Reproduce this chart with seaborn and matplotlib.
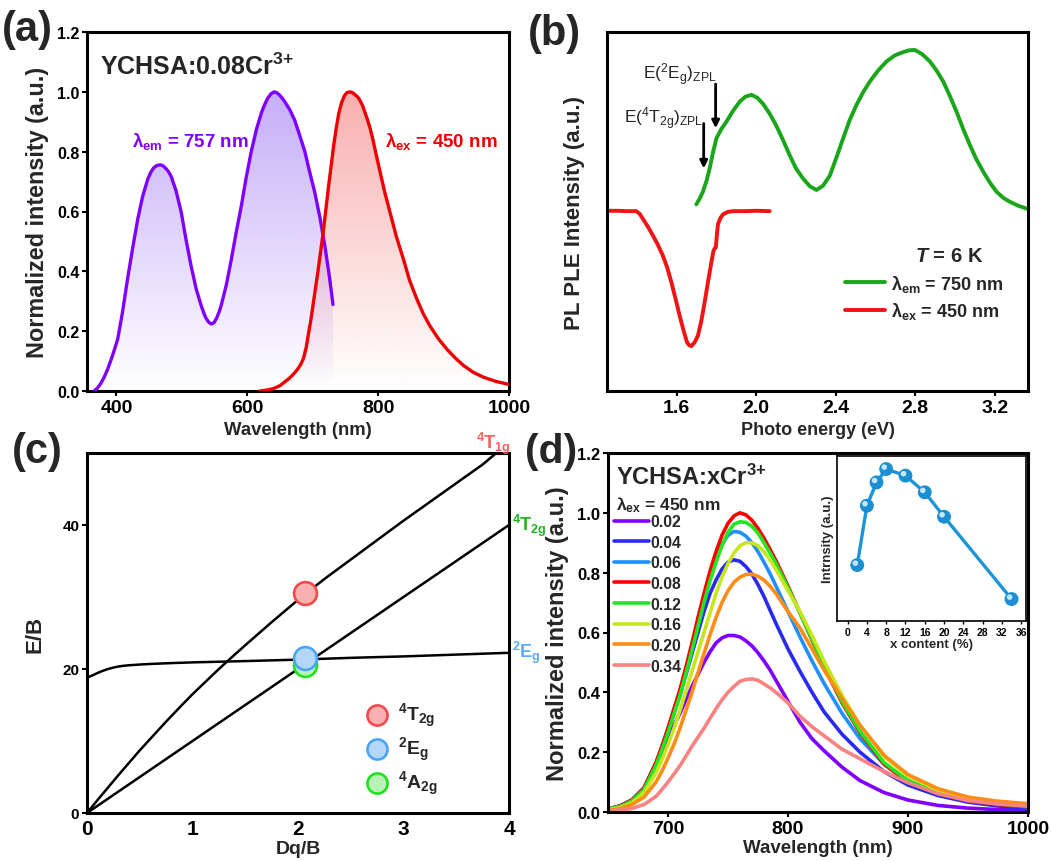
import numpy as np
import matplotlib
matplotlib.use("Agg")
import matplotlib.pyplot as plt
import matplotlib.colors as mcolors
import matplotlib.transforms as mtransforms
import seaborn as sns

# ---------------- (a) PLE / PL spectra ----------------
ple_wl = [366, 371, 376, 381, 386.6, 391, 395, 402, 409, 417, 425, 432.6, 440, 448, 453, 457,
          462, 467, 471, 475, 479, 483.7, 491, 499, 506, 514, 522, 529.6, 534, 537, 541, 545,
          549, 553, 557, 560, 568, 575.6, 583, 591, 598, 606, 614, 621.6, 626, 631, 636, 641,
          645, 649, 653, 657, 665, 672.5, 680, 688, 695, 703, 711, 718.5, 725, 731]
ple_int = [0.0, 0.01, 0.025, 0.045, 0.073, 0.10, 0.125, 0.174, 0.26, 0.375, 0.48, 0.575, 0.65,
           0.709, 0.733, 0.746, 0.754, 0.756, 0.753, 0.745, 0.735, 0.717, 0.67, 0.598, 0.51,
           0.419, 0.34, 0.285, 0.258, 0.243, 0.23, 0.224, 0.228, 0.243, 0.265, 0.285, 0.355,
           0.44, 0.53, 0.62, 0.71, 0.80, 0.875, 0.93, 0.955, 0.978, 0.993, 1.0, 0.997, 0.99,
           0.98, 0.968, 0.94, 0.905, 0.855, 0.80, 0.735, 0.665, 0.58, 0.486, 0.39, 0.289]
pl_wl = [619, 630, 640, 650, 657, 664, 670, 677, 682, 686, 690, 693, 697, 700, 704, 708, 712,
         716, 720, 724, 728, 732, 736, 740, 744, 748, 752, 757, 761, 765, 769, 772, 776, 780,
         784, 788, 792, 795, 799, 803, 810, 818, 828, 838.6, 848, 859, 869, 879, 892, 905,
         918, 930.6, 945, 961, 980, 1000]
pl_int = [0.0, 0.003, 0.008, 0.018, 0.03, 0.042, 0.055, 0.073, 0.09, 0.11, 0.145, 0.185, 0.235,
          0.28, 0.34, 0.40, 0.465, 0.53, 0.605, 0.68, 0.75, 0.82, 0.88, 0.93, 0.963, 0.985,
          0.997, 1.0, 0.997, 0.99, 0.982, 0.972, 0.955, 0.93, 0.905, 0.876, 0.84, 0.81, 0.77,
          0.732, 0.665, 0.598, 0.515, 0.441, 0.37, 0.308, 0.258, 0.218, 0.175, 0.14, 0.11,
          0.085, 0.063, 0.046, 0.032, 0.022]

# ---------------- (b) low temperature PLE / PL ----------------
lt_ple_ev = [1.699, 1.715, 1.732, 1.75, 1.766, 1.783, 1.80, 1.825, 1.85, 1.883, 1.917, 1.946,
             1.976, 2.005, 2.034, 2.067, 2.10, 2.134, 2.168, 2.20, 2.235, 2.27, 2.303, 2.336,
             2.37, 2.403, 2.437, 2.47, 2.504, 2.537, 2.571, 2.613, 2.655, 2.697, 2.739, 2.768,
             2.797, 2.835, 2.873, 2.906, 2.94, 2.973, 3.007, 3.04, 3.074, 3.107, 3.141, 3.175,
             3.208, 3.242, 3.275, 3.317, 3.359]
lt_ple_int = [0.52, 0.535, 0.555, 0.585, 0.62, 0.665, 0.704, 0.73, 0.75, 0.78, 0.806, 0.82,
              0.825, 0.817, 0.80, 0.773, 0.74, 0.70, 0.657, 0.62, 0.592, 0.57, 0.56, 0.572,
              0.60, 0.65, 0.704, 0.755, 0.797, 0.832, 0.862, 0.893, 0.918, 0.935, 0.944, 0.949,
              0.95, 0.938, 0.918, 0.893, 0.862, 0.822, 0.778, 0.73, 0.685, 0.645, 0.611, 0.58,
              0.555, 0.538, 0.527, 0.516, 0.508]
lt_pl_ev = [1.254, 1.30, 1.35, 1.397, 1.415, 1.43, 1.455, 1.48, 1.505, 1.53, 1.552, 1.573, 1.594,
            1.615, 1.635, 1.652, 1.664, 1.674, 1.69, 1.707, 1.724, 1.741, 1.758, 1.775, 1.785,
            1.791, 1.797, 1.803, 1.808, 1.82, 1.833, 1.858, 1.883, 1.95, 2.0, 2.068]
lt_pl_int = [0.502, 0.502, 0.501, 0.501, 0.493, 0.48, 0.458, 0.434, 0.408, 0.378, 0.345, 0.304,
             0.258, 0.21, 0.168, 0.136, 0.127, 0.125, 0.135, 0.154, 0.195, 0.248, 0.305, 0.36,
             0.39, 0.397, 0.40, 0.44, 0.465, 0.482, 0.492, 0.499, 0.501, 0.501, 0.502, 0.501]
zpl_2eg = 1.796
zpl_4t2g = 1.736

# ---------------- (c) Tanabe-Sugano diagram ----------------
t2g_dq = [0.0, 4.0]
t2g_e = [0.0, 40.0]
t1g_dq = [0.0, 0.1, 0.2, 0.3, 0.4, 0.5, 0.6, 0.75, 0.9, 1.0, 1.1, 1.25, 1.4, 1.5, 1.75, 2.0,
          2.25, 2.5, 2.75, 3.0, 3.25, 3.5, 3.75, 3.88]
t1g_e = [0.0, 1.8, 3.55, 5.3, 7.0, 8.7, 10.3, 12.7, 15.0, 16.5, 17.9, 20.0, 22.0, 23.3, 26.5,
         29.6, 32.5, 35.2, 37.9, 40.6, 43.2, 45.8, 48.4, 50.0]
eg_dq = [0.0, 0.05, 0.1, 0.15, 0.2, 0.25, 0.3, 0.35, 0.4, 0.5, 0.6, 0.8, 1.0, 1.5, 2.0, 2.5,
         3.0, 3.5, 4.0]
eg_e = [18.8, 19.1, 19.45, 19.75, 20.0, 20.2, 20.35, 20.45, 20.52, 20.62, 20.7, 20.82, 20.92,
        21.1, 21.3, 21.55, 21.75, 22.0, 22.25]
dq_point = 2.07
level_names = ["$^4$A$_{2g}$", "$^2$E$_g$", "$^4$T$_{2g}$"]
level_e = [20.5, 21.55, 30.5]

# ---------------- (d) concentration series ----------------
wl_d = [650, 660, 670, 680, 690, 695, 700, 705, 710, 715, 720, 725, 730, 735, 740, 745, 750,
        755, 760, 765, 770, 775, 780, 785, 790, 800, 810, 820, 830, 845, 860, 880, 900, 925,
        950, 975, 1000]
conc_labels = ["0.02", "0.04", "0.06", "0.08", "0.12", "0.16", "0.20", "0.34"]
int_002 = [0.01, 0.02, 0.04, 0.08, 0.16, 0.20, 0.245, 0.29, 0.33, 0.375, 0.42, 0.46, 0.50,
           0.535, 0.565, 0.582, 0.59, 0.59, 0.585, 0.572, 0.555, 0.532, 0.505, 0.475, 0.44,
           0.37, 0.30, 0.245, 0.205, 0.15, 0.105, 0.065, 0.04, 0.022, 0.013, 0.008, 0.005]
int_004 = [0.01, 0.02, 0.04, 0.08, 0.16, 0.213, 0.27, 0.33, 0.39, 0.46, 0.53, 0.60, 0.67, 0.73,
           0.775, 0.812, 0.835, 0.843, 0.838, 0.82, 0.795, 0.76, 0.72, 0.675, 0.63, 0.545,
           0.47, 0.40, 0.335, 0.26, 0.20, 0.135, 0.09, 0.055, 0.033, 0.02, 0.012]
int_006 = [0.01, 0.02, 0.04, 0.08, 0.165, 0.22, 0.28, 0.342, 0.405, 0.478, 0.555, 0.635, 0.715,
           0.785, 0.845, 0.895, 0.925, 0.938, 0.935, 0.922, 0.90, 0.87, 0.835, 0.797, 0.755,
           0.67, 0.585, 0.505, 0.43, 0.33, 0.245, 0.16, 0.105, 0.065, 0.04, 0.026, 0.017]
int_008 = [0.01, 0.02, 0.04, 0.08, 0.165, 0.22, 0.28, 0.345, 0.41, 0.485, 0.565, 0.65, 0.73,
           0.805, 0.87, 0.925, 0.965, 0.99, 1.0, 0.993, 0.975, 0.948, 0.915, 0.878, 0.84,
           0.755, 0.665, 0.575, 0.485, 0.365, 0.265, 0.16, 0.10, 0.062, 0.038, 0.025, 0.018]
int_012 = [0.01, 0.018, 0.037, 0.075, 0.155, 0.208, 0.265, 0.328, 0.39, 0.463, 0.54, 0.62,
           0.70, 0.772, 0.835, 0.89, 0.935, 0.962, 0.97, 0.968, 0.955, 0.932, 0.90, 0.866,
           0.83, 0.75, 0.665, 0.578, 0.49, 0.37, 0.27, 0.165, 0.105, 0.065, 0.04, 0.027, 0.02]
int_016 = [0.008, 0.015, 0.03, 0.065, 0.13, 0.175, 0.225, 0.28, 0.34, 0.405, 0.47, 0.535, 0.60,
           0.665, 0.73, 0.785, 0.83, 0.866, 0.89, 0.90, 0.90, 0.89, 0.87, 0.843, 0.81, 0.74,
           0.67, 0.59, 0.505, 0.39, 0.29, 0.185, 0.12, 0.073, 0.047, 0.032, 0.024]
int_020 = [0.006, 0.012, 0.025, 0.05, 0.10, 0.137, 0.18, 0.227, 0.28, 0.34, 0.40, 0.465, 0.53,
           0.592, 0.65, 0.70, 0.74, 0.768, 0.785, 0.794, 0.795, 0.788, 0.775, 0.755, 0.73,
           0.67, 0.615, 0.545, 0.475, 0.38, 0.29, 0.19, 0.125, 0.078, 0.05, 0.036, 0.028]
int_034 = [0.003, 0.006, 0.012, 0.025, 0.052, 0.075, 0.10, 0.127, 0.155, 0.187, 0.22, 0.25,
           0.28, 0.313, 0.345, 0.375, 0.40, 0.42, 0.437, 0.443, 0.445, 0.44, 0.428, 0.415,
           0.40, 0.365, 0.32, 0.285, 0.255, 0.21, 0.178, 0.135, 0.098, 0.061, 0.038, 0.027,
           0.02]
conc_colors = ["#8000ff", "#2a2af0", "#1e90ff", "#ff0000", "#22e622", "#c8e61e", "#ff8c14",
               "#fa8282"]

# inset: integrated intensity vs Cr content
x_content = [2, 4, 6, 8, 12, 16, 20, 34]
integ_int = [0.339, 0.699, 0.84, 0.921, 0.881, 0.78, 0.632, 0.133]

# ---------------- style ----------------
sns.set_theme(style="ticks")
plt.rcParams.update({
    "font.family": ["Liberation Sans", "DejaVu Sans"],
    "font.weight": "bold",
    "axes.labelweight": "bold",
    "mathtext.fontset": "custom",
    "mathtext.default": "regular",
    "mathtext.rm": "Liberation Sans:bold",
    "mathtext.bf": "Liberation Sans:bold",
    "mathtext.it": "Liberation Sans:italic:bold",
    "axes.linewidth": 2.2,
    "axes.edgecolor": "black",
    "xtick.color": "black",
    "ytick.color": "black",
    "xtick.major.width": 1.5,
    "ytick.major.width": 1.5,
    "xtick.major.size": 3.5,
    "ytick.major.size": 3.5,
    "xtick.major.pad": 2,
    "ytick.major.pad": 2,
    "lines.solid_joinstyle": "round",
    "lines.solid_capstyle": "round",
})

W, H = 1051, 862
fig = plt.figure(figsize=(W / 100, H / 100), dpi=100)


def px_axes(left, top, right, bottom):
    return fig.add_axes([left / W, 1 - bottom / H, (right - left) / W, (bottom - top) / H])


def ftext(px, py, s, **kw):
    fig.text(px / W, 1 - py / H, s, **kw)


def gradient_fill(ax, x, y, color, alpha_top, ytop):
    poly = ax.fill_between(x, y, 0, color="none", lw=0)
    rgb = mcolors.to_rgb(color)
    n = 256
    img = np.zeros((n, 1, 4))
    img[:, 0, :3] = rgb
    img[:, 0, 3] = np.linspace(0.0, alpha_top, n)
    im = ax.imshow(img, aspect="auto", origin="lower",
                   extent=[min(x), max(x), 0, ytop], zorder=1, interpolation="bilinear")
    im.set_clip_path(poly.get_paths()[0], ax.transData)


ax_a = px_axes(87, 33, 509, 392)
ax_b = px_axes(607, 33, 1028, 392)
ax_c = px_axes(87, 454, 509, 814)
ax_d = px_axes(608, 454, 1028, 813)

# ---------------- panel (a) ----------------
gradient_fill(ax_a, ple_wl, ple_int, "#8a5cf0", 0.5, 1.0)
gradient_fill(ax_a, pl_wl, pl_int, "#f04040", 0.42, 1.0)
sns.lineplot(x=ple_wl, y=ple_int, color="#7f00ff", lw=2.4, ax=ax_a, zorder=3)
sns.lineplot(x=pl_wl, y=pl_int, color="#ee0000", lw=2.4, ax=ax_a, zorder=3)
ax_a.set_xlim(355, 1000)
ax_a.set_ylim(0, 1.2)
ax_a.set_xticks([400, 600, 800, 1000])
ax_a.set_yticks(np.arange(0, 1.21, 0.2))
ax_a.set_yticklabels([f"{v:.1f}" for v in np.arange(0, 1.21, 0.2)])
ax_a.tick_params(axis="x", labelsize=14)
ax_a.tick_params(axis="y", labelsize=11.5)
ax_a.set_xlabel("Wavelength (nm)", fontsize=13.3, labelpad=4)
ax_a.set_ylabel("Normalized intensity (a.u.)", fontsize=16.8, labelpad=6)
ax_a.text(0.03, 0.905, "YCHSA:0.08Cr$^{3{+}}$", transform=ax_a.transAxes, fontsize=18,
          fontweight="bold", va="center", ha="left")
ax_a.text(424, 0.836, "λ$_{em}$ = 757 nm", color="#7f00ff", fontsize=13.5, fontweight="bold",
          va="center", ha="left")
ax_a.text(810, 0.836, "λ$_{ex}$ = 450 nm", color="#ee0000", fontsize=13.5, fontweight="bold",
          va="center", ha="left")

# ---------------- panel (b) ----------------
sns.lineplot(x=lt_ple_ev, y=lt_ple_int, color="#1aa61a", lw=2.8, ax=ax_b,
             label="λ$_{em}$ = 750 nm")
sns.lineplot(x=lt_pl_ev, y=lt_pl_int, color="#f01414", lw=2.8, ax=ax_b,
             label="λ$_{ex}$ = 450 nm")
ax_b.set_xlim(1.25, 3.366)
ax_b.set_ylim(0, 1)
ax_b.set_xticks([1.6, 2.0, 2.4, 2.8, 3.2])
ax_b.set_xticklabels(["1.6", "2.0", "2.4", "2.8", "3.2"])
ax_b.set_yticks([])
ax_b.tick_params(axis="x", labelsize=14)
ax_b.set_xlabel("Photo energy (eV)", fontsize=13, labelpad=4)
ax_b.set_ylabel("PL PLE Intensity (a.u.)", fontsize=16, labelpad=16)
arrow_kw = dict(arrowstyle="-|>", color="black", lw=2.0, mutation_scale=11,
                shrinkA=0, shrinkB=0)
ax_b.annotate("", xy=(zpl_2eg, 0.732), xytext=(zpl_2eg, 0.855), arrowprops=arrow_kw)
ax_b.annotate("", xy=(zpl_4t2g, 0.62), xytext=(zpl_4t2g, 0.745), arrowprops=arrow_kw)
ax_b.text(1.80, 0.883, "E($^2$E$_g$)$_{ZPL}$", fontsize=12.5, fontweight="normal",
          ha="right", va="center")
ax_b.text(1.735, 0.762, "E($^4$T$_{2g}$)$_{ZPL}$", fontsize=12.5, fontweight="normal",
          ha="right", va="center")
ax_b.text(2.97, 0.378, "$\\mathit{T}$ = 6 K", fontsize=14.5, fontweight="bold",
          ha="center", va="center")
ax_b.legend(loc="upper left", bbox_to_anchor=(0.565, 0.33), frameon=False, fontsize=13,
            handlelength=2.2, handletextpad=0.35, labelspacing=0.35, borderpad=0,
            borderaxespad=0)

# ---------------- panel (c) ----------------
for xs, ys in [(t2g_dq, t2g_e), (t1g_dq, t1g_e), (eg_dq, eg_e)]:
    sns.lineplot(x=xs, y=ys, color="black", lw=1.8, ax=ax_c, zorder=2)
face_cols = {"$^4$T$_{2g}$": "#f8b0b0", "$^2$E$_g$": "#b4d6f8", "$^4$A$_{2g}$": "#b8f2b8"}
edge_cols = {"$^4$T$_{2g}$": "#f04a4a", "$^2$E$_g$": "#4aa5f5", "$^4$A$_{2g}$": "#1ee01e"}
for name, e in zip(level_names, level_e):
    ax_c.scatter([dq_point], [e], s=270, color=face_cols[name], edgecolor=edge_cols[name],
                 linewidth=1.9, zorder=4)
legend_order = ["$^4$T$_{2g}$", "$^2$E$_g$", "$^4$A$_{2g}$"]
handles = [ax_c.scatter([], [], s=210, color=face_cols[n], edgecolor=edge_cols[n],
                        linewidth=1.9) for n in legend_order]
ax_c.legend(handles, legend_order, loc="upper left", bbox_to_anchor=(0.64, 0.31),
            frameon=False, fontsize=14, handletextpad=0.1, labelspacing=0.3, borderpad=0,
            borderaxespad=0)
ax_c.set_xlim(0, 4)
ax_c.set_ylim(0, 50)
ax_c.set_xticks([0, 1, 2, 3, 4])
ax_c.set_yticks([0, 20, 40])
ax_c.tick_params(axis="x", labelsize=15, length=0, pad=4)
ax_c.tick_params(axis="y", labelsize=11)
ax_c.set_xlabel("Dq/B", fontsize=14, labelpad=2)
ax_c.set_ylabel("E/B", fontsize=16, labelpad=12)
ax_c.text(4.02, 49.6, "$^4$T$_{1g}$", color="#ff5c5c", fontsize=13, ha="right", va="bottom",
          clip_on=False)
ax_c.text(4.03, 40.0, "$^4$T$_{2g}$", color="#1eb41e", fontsize=13, ha="left", va="center",
          clip_on=False)
ax_c.text(4.03, 22.4, "$^2$E$_g$", color="#5aabf5", fontsize=13, ha="left", va="center",
          clip_on=False)

# ---------------- panel (d) ----------------
series_d = [int_002, int_004, int_006, int_008, int_012, int_016, int_020, int_034]
for lab, col, vals in zip(conc_labels, conc_colors, series_d):
    sns.lineplot(x=wl_d, y=vals, color=col, lw=2.6, ax=ax_d, label=lab)
ax_d.set_xlim(650, 1000)
ax_d.set_ylim(0, 1.2)
ax_d.set_xticks([700, 800, 900, 1000])
ax_d.set_yticks(np.arange(0, 1.21, 0.2))
ax_d.set_yticklabels([f"{v:.1f}" for v in np.arange(0, 1.21, 0.2)])
ax_d.tick_params(axis="x", labelsize=14)
ax_d.tick_params(axis="y", labelsize=12)
ax_d.set_xlabel("Wavelength (nm)", fontsize=13.5, labelpad=2)
ax_d.set_ylabel("Normalized intensity (a.u.)", fontsize=17, labelpad=6)
ax_d.text(0.02, 0.935, "YCHSA:xCr$^{3{+}}$", transform=ax_d.transAxes, fontsize=17,
          fontweight="bold", va="center", ha="left")
ax_d.text(0.02, 0.857, "λ$_{ex}$ = 450 nm", transform=ax_d.transAxes, fontsize=12.5,
          fontweight="bold", va="center", ha="left")
ax_d.legend(loc="upper left", bbox_to_anchor=(0.015, 0.83), frameon=False, fontsize=11.3,
            handlelength=2.2, handletextpad=0.1, labelspacing=0.36, borderpad=0,
            borderaxespad=0)

# inset
ax_in = px_axes(837, 457, 1026, 622)
for s in ax_in.spines.values():
    s.set_linewidth(1.2)
sns.lineplot(x=x_content, y=integ_int, color="#1b95d8", lw=2.4, ax=ax_in, zorder=2)
sns.scatterplot(x=x_content, y=integ_int, color="#1b8fd2", s=100, edgecolor="none",
                ax=ax_in, zorder=3)
hl = mtransforms.offset_copy(ax_in.transData, fig=fig, x=-1.4, y=1.4, units="points")
ax_in.scatter(x_content, integ_int, s=16, color="#c4e8fb", edgecolor="none",
              transform=hl, zorder=4)
ax_in.set_xlim(-2.2, 37)
ax_in.set_ylim(0, 1)
ax_in.set_xticks(range(0, 37, 4))
ax_in.set_yticks([])
ax_in.tick_params(axis="x", labelsize=7.5, length=2.5, width=1, pad=1.5)
ax_in.set_xlabel("x content (%)", fontsize=9.5, labelpad=1)
ax_in.set_ylabel("Intrnsity (a.u.)", fontsize=9.5, labelpad=2)

# panel letters
ftext(2, 30, "(a)", fontsize=30, fontweight="bold", va="center", ha="left")
ftext(528, 34, "(b)", fontsize=30, fontweight="bold", va="center", ha="left")
ftext(12, 452, "(c)", fontsize=30, fontweight="bold", va="center", ha="left")
ftext(525, 452, "(d)", fontsize=29.5, fontweight="bold", va="center", ha="left")

fig.savefig("out.png", dpi=100)
